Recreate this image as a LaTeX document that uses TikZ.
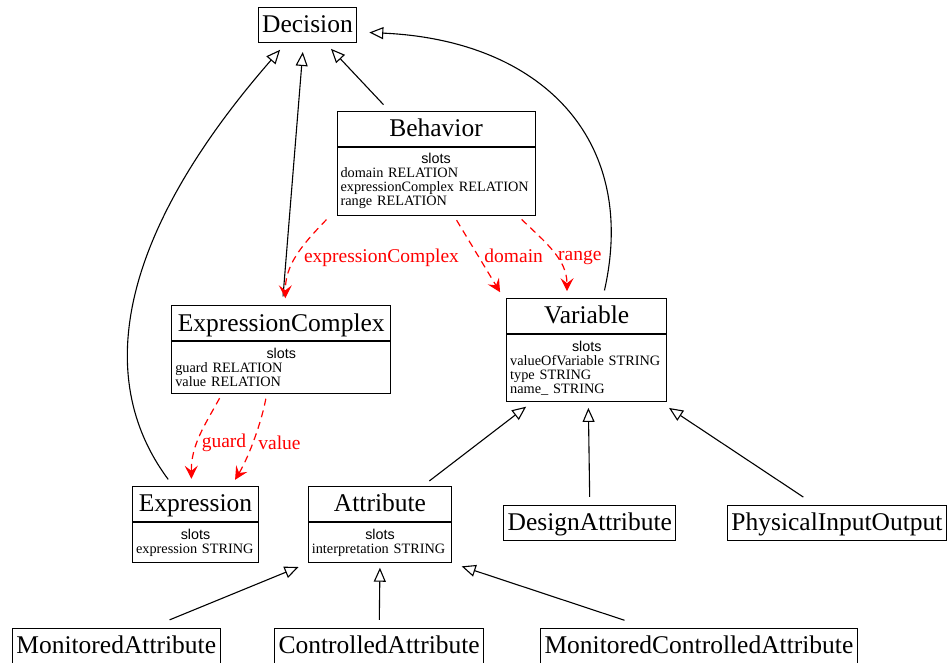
\documentclass[tikz,border=0pt]{standalone}
\usepackage{fontspec}
\setmainfont{Liberation Serif}
\setsansfont{Liberation Sans}
\usepackage{xcolor}
\usepackage{tikz}
\usetikzlibrary{arrows.meta}
\newcommand{\titlefont}{\fontsize{25.5pt}{30pt}\selectfont}
\newcommand{\slotfont}{\fontsize{14.3pt}{14pt}\selectfont}
\newcommand{\edgefont}{\fontsize{19.5pt}{23pt}\selectfont}
\newcommand{\slotshead}{{\centering\sffamily slots\par}}
\tikzset{cls/.style={draw, line width=1pt, inner xsep=4pt, inner ysep=6pt, text height=19.2pt, text depth=3.8pt, font=\titlefont},
%slot compartment under a class title, #1 is its text width
slotbox/.style={draw, line width=1pt, anchor=north, inner xsep=3.5pt, inner ysep=6.5pt, text width=#1, align=left, font=\slotfont},
isa/.style={line width=1.1pt, -{Triangle[open,length=14pt,width=12pt]}},
dep/.style={red, line width=1.2pt, dash pattern=on 7pt off 5pt, -{Stealth[length=13pt,width=13pt,inset=5pt]}},
elabel/.style={text=red, font=\edgefont, inner sep=1pt}}

\begin{document}
\begin{tikzpicture}[x=1pt, y=-1pt]
\useasboundingbox (0,0) rectangle (951,662);
%\draw[step=50,color=gray] (0,0) grid (951,662);
\node[cls] (decision) at (307.5,25) {Decision};
\node[cls, minimum width=198pt] (behavior) at (436,128.5) {Behavior};
\node[slotbox=191pt] (behaviorSlots) at (behavior.south) {\slotshead domain RELATION\\expressionComplex RELATION\\range RELATION};
\node[cls, minimum width=219pt] (excomplex) at (281.3,323.3) {ExpressionComplex};
\node[slotbox=212pt] (excomplexSlots) at (excomplex.south) {\slotshead guard RELATION\\value RELATION};
\node[cls, minimum width=160pt] (variable) at (586.7,316.2) {Variable};
\node[slotbox=153pt] (variableSlots) at (variable.south) {\slotshead valueOfVariable STRING\\type STRING\\name\_ STRING};
\node[cls, minimum width=126pt] (expression) at (195.5,503.8) {Expression};
\node[slotbox=119pt] (expressionSlots) at (expression.south) {\slotshead expression STRING};
\node[cls, minimum width=143.4pt] (attribute) at (380,503.8) {Attribute};
\node[slotbox=136.4pt] (attributeSlots) at (attribute.south) {\slotshead interpretation STRING};
\node[cls] (design) at (589.8,522.8) {DesignAttribute};
\node[cls] (physical) at (837,522.8) {PhysicalInputOutput};
\node[cls] (monitored) at (116.2,645.8) {MonitoredAttribute};
\node[cls] (controlled) at (379.2,645.8) {ControlledAttribute};
\node[cls] (monctrl) at (698.9,645.8) {MonitoredControlledAttribute};

% generalisations
\draw[isa, shorten <=8pt, shorten >=8pt] ([xshift=-47pt]behavior.north) -- ([xshift=18pt]decision.south);
\draw[isa, shorten <=9pt, shorten >=9pt] ([xshift=1pt]excomplex.north) -- ([xshift=-4pt]decision.south);
\draw[isa, shorten <=8pt, shorten >=9pt] ([xshift=-22.5pt]expression.north) .. controls +(-82,-110) and +(-164,188) .. ([xshift=-21.5pt]decision.south);
\draw[isa, shorten <=8pt, shorten >=12pt] ([xshift=16pt]variable.north) .. controls +(36,-160) and +(183,8) .. ([yshift=-7pt]decision.east);
\draw[isa, shorten <=8pt, shorten >=7pt] ([xshift=43pt]attribute.north) -- ([xshift=-55pt]variableSlots.south);
\draw[isa, shorten <=8pt, shorten >=5.5pt] (design.north) -- ([xshift=1.6pt]variableSlots.south);
\draw[isa, shorten <=14pt, shorten >=10pt] ([xshift=-22pt]physical.north) -- ([xshift=74pt]variableSlots.south);
\draw[isa, shorten <=21pt, shorten >=10pt] ([xshift=34pt]monitored.north) -- (attributeSlots.south west);
\draw[isa, shorten <=8pt, shorten >=4.5pt] (controlled.north) -- (attributeSlots.south);
\draw[isa, shorten <=24pt, shorten >=10pt] ([xshift=-51.7pt]monctrl.north) -- (attributeSlots.south east);

% slot relations
\draw[dep, shorten <=5pt, shorten >=7pt] ([xshift=-106pt]behaviorSlots.south) .. controls +(-30,31) and +(0,-40) .. ([xshift=4pt]excomplex.north)
  node[elabel, pos=.5, anchor=west, xshift=6pt, yshift=-1pt] (lblExcomplex) {expressionComplex};
\draw[dep, shorten <=5pt, shorten >=7pt] ([xshift=18pt]behaviorSlots.south) -- ([xshift=-83pt]variable.north)
  node[elabel, pos=.5, anchor=west, xshift=4pt, yshift=1pt] (lblDomain) {domain};
\draw[dep, shorten <=5pt, shorten >=7pt] ([xshift=82pt]behaviorSlots.south) .. controls +(27,26) and +(0,-39) .. ([xshift=-19.7pt]variable.north)
  node[elabel, pos=.5, anchor=west, xshift=4pt, yshift=-5pt] (lblRange) {range};
\draw[dep, shorten <=5pt, shorten >=7pt] ([xshift=-59.3pt]excomplexSlots.south) .. controls +(-17,31) and +(-0.5,-41) .. ([xshift=-4pt]expression.north)
  node[elabel, pos=.5, anchor=west, yshift=-7pt] (lblGuard) {guard};
\draw[dep, shorten <=5pt, shorten >=7pt] ([xshift=-14.6pt]excomplexSlots.south) .. controls +(-4.7,26) and +(18.5,-31) .. ([xshift=36pt]expression.north)
  node[elabel, pos=.5, anchor=west, xshift=2.5pt, yshift=-5pt] (lblValue) {value};
\end{tikzpicture}
\end{document}
